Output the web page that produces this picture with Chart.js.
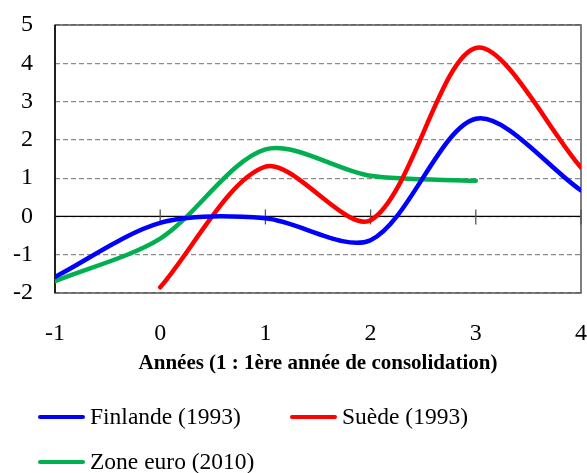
<!DOCTYPE html>
<html>
<head>
<meta charset="utf-8">
<script src="https://cdn.jsdelivr.net/npm/chart.js@4/dist/chart.umd.min.js"></script>
<style>
  html, body { margin: 0; padding: 0; background: #fff; }
  #wrap { position: relative; width: 587px; height: 473px; overflow: hidden; }
  #c { position: absolute; left: 0; top: 0; }
  .leg { position: absolute; font-family: "Liberation Serif", "Times New Roman", serif; font-size: 23.5px; color: #000; white-space: nowrap; line-height: 1; }
  .sw { position: absolute; width: 47px; height: 4px; border-radius: 2px; }
</style>
</head>
<body>
<div id="wrap">
  <canvas id="c" width="587" height="473"></canvas>
</div>
<script>
// ---- Data ----
const years = [-1, 0, 1, 2, 3, 4];
const finlande = [-1.58, -0.17, -0.05, -0.62, 2.55, 0.68];
const suedeYears = [0, 1, 2, 3, 4];
const suede = [-1.85, 1.3, -0.1, 4.4, 1.28];
const zoneYears = [-1, 0, 1, 2, 3];
const zoneEuro = [-1.69, -0.58, 1.75, 1.06, 0.93];
const yTicks = [-2, -1, 0, 1, 2, 3, 4, 5];
const xTicks = [-1, 0, 1, 2, 3, 4];
const seriesNames = ["Finlande (1993)", "Suède (1993)", "Zone euro (2010)"];
const seriesColors = ["#0000FF", "#FF0000", "#00B050"];
const xTitle = "Années (1 : 1ère année de consolidation)";

function pts(xs, ys) { return xs.map((x, i) => ({ x: x, y: ys[i] })); }

const frame = {
  id: 'frame',
  beforeDatasetsDraw(chart) {
    const { ctx, chartArea: a, scales: { x, y } } = chart;
    ctx.save();
    const y0 = y.getPixelForValue(0);
    ctx.strokeStyle = '#000';
    ctx.lineWidth = 1.3;
    ctx.beginPath();
    ctx.moveTo(a.left, y0); ctx.lineTo(a.right, y0);
    ctx.stroke();
    ctx.strokeStyle = '#555';
    ctx.lineWidth = 1.3;
    xTicks.forEach(v => {
      if (v === xTicks[0]) return;
      const px = x.getPixelForValue(v);
      ctx.beginPath();
      ctx.moveTo(px, y0 - 7); ctx.lineTo(px, y0 + 8);
      ctx.stroke();
    });
    ctx.strokeStyle = '#555';
    ctx.lineWidth = 1.5;
    ctx.strokeRect(a.left, a.top, a.right - a.left, a.bottom - a.top);
    ctx.strokeStyle = '#000';
    ctx.beginPath();
    ctx.moveTo(a.left, a.top); ctx.lineTo(a.left, a.bottom);
    ctx.stroke();
    ctx.restore();
  }
};

const serif = "'Liberation Serif', 'Times New Roman', serif";

const chart = new Chart(document.getElementById('c'), {
  type: 'line',
  data: {
    datasets: [
      { label: seriesNames[0], data: pts(years, finlande), borderColor: seriesColors[0] },
      { label: seriesNames[1], data: pts(suedeYears, suede), borderColor: seriesColors[1] },
      { label: seriesNames[2], data: pts(zoneYears, zoneEuro), borderColor: seriesColors[2] }
    ].map(d => Object.assign(d, {
      borderWidth: 4.5, pointRadius: 0, tension: 0.3, fill: false,
      borderCapStyle: 'round', borderJoinStyle: 'round', backgroundColor: d.borderColor
    }))
  },
  options: {
    responsive: false,
    animation: false,
    layout: { padding: { left: 0, top: 25, right: 6, bottom: 90 } },
    plugins: { legend: { display: false }, tooltip: { enabled: false } },
    scales: {
      x: {
        type: 'linear', min: -1, max: 4,
        afterBuildTicks(s) { s.ticks = xTicks.map(v => ({ value: v })); },
        afterFit(s) { s.height = 90; s.paddingLeft = 0; s.paddingRight = 0; },
        grid: { display: false, drawTicks: false },
        border: { display: false },
        ticks: { padding: 26, color: '#000', maxRotation: 0, font: { family: serif, size: 24 } },
        title: {
          display: true, text: xTitle, color: '#000', padding: 7,
          font: { family: serif, size: 21, weight: 'bold', lineHeight: 1.2 }
        }
      },
      y: {
        min: -2, max: 5,
        afterBuildTicks(s) { s.ticks = yTicks.map(v => ({ value: v })); },
        afterFit(s) { s.width = 55; s.paddingTop = 0; s.paddingBottom = 0; },
        grid: { color: '#8c8c8c', lineWidth: 1.2, drawTicks: false },
        border: { display: false, dash: [5, 3] },
        ticks: { padding: 22, color: '#000', font: { family: serif, size: 24 } }
      }
    }
  },
  plugins: [frame]
});

// ---- HTML legend ----
const wrap = document.getElementById('wrap');
const legPos = [[38, 417], [290, 417], [38, 462]];
seriesNames.forEach((name, i) => {
  const [lx, cy] = legPos[i];
  const sw = document.createElement('div');
  sw.className = 'sw';
  sw.style.left = lx + 'px';
  sw.style.top = (cy - 2) + 'px';
  sw.style.background = seriesColors[i];
  wrap.appendChild(sw);
  const t = document.createElement('div');
  t.className = 'leg';
  t.textContent = name;
  t.style.left = (lx + 52) + 'px';
  t.style.top = (cy - 12) + 'px';
  wrap.appendChild(t);
});
</script>
</body>
</html>
